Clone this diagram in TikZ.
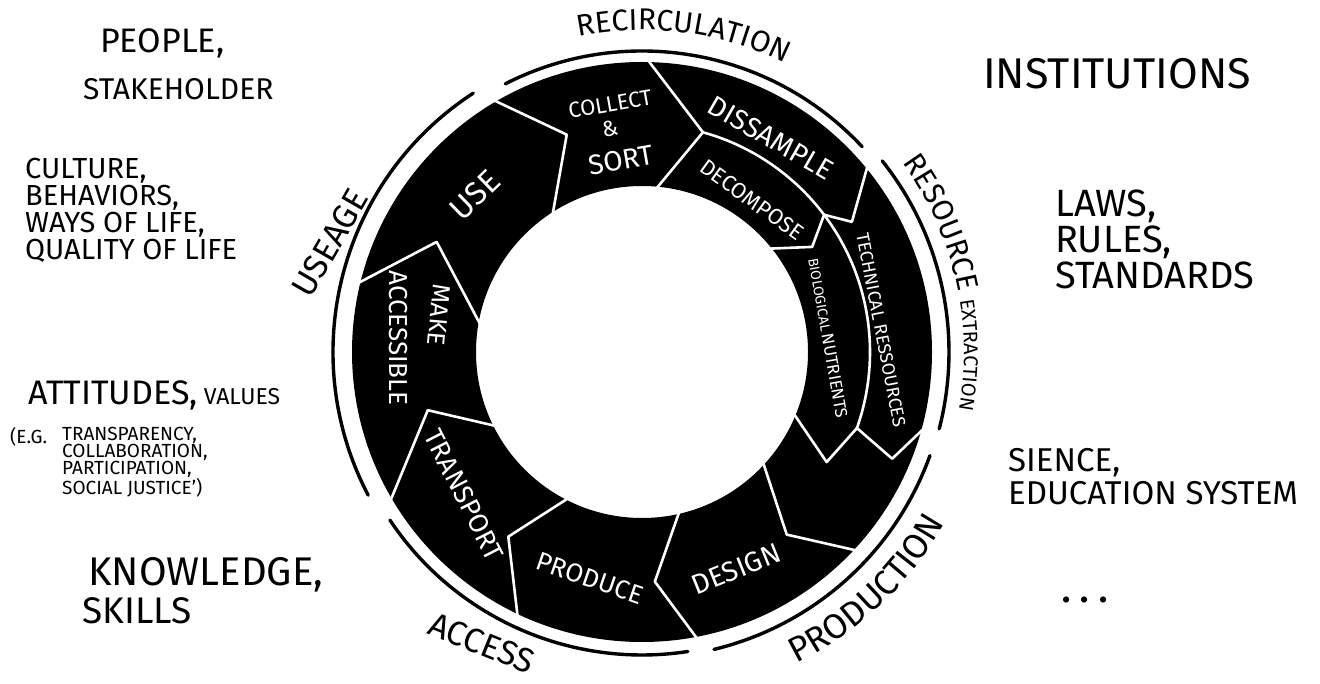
\documentclass[tikz,border=0pt]{standalone}
\usepackage{fontspec}
\setmainfont{Fira Sans}
\usetikzlibrary{decorations.text}

\tikzset{
  hand/.style={inner sep=0pt, anchor=north west, align=left, text=black},
  segtext/.style={inner sep=0pt, text=white, align=center},
  seam/.style={draw=white, line width=2.6pt, line join=round, line cap=round},
  rim/.style={draw=black, line width=3.4pt, line cap=round},
}

\begin{document}
\begin{tikzpicture}[x=1pt, y=1pt]
\useasboundingbox (0,0) rectangle (1320,-684);
\fill[white] (0,0) rectangle (1320,-684);

% the cycle ring
\begin{scope}[shift={(642,-352)}]
  \fill[black, even odd rule] (0,0) circle[radius=290pt] (0,0) circle[radius=166pt];
  % seams between the stages (tips point clockwise)
  \draw[seam] (120.6:293) -- (109.1:230) -- (123.7:162);
  \draw[seam] (89:293) -- (74.5:228) -- (85.5:162);
  \draw[seam] (74.5:228) arc[start angle=74.5, end angle=-19.5, radius=228pt];
  \draw[seam] (39.6:293) -- (31.8:247) -- (37:228);
  \draw[seam] (37:228) -- (31.7:200) -- (39.6:162);
  \draw[seam] (-21.7:162) -- (-30.8:215) -- (-19.5:228);
  \draw[seam] (-19.5:228) -- (-23.1:272) -- (-14.9:293);
  \draw[seam] (-42.7:293) -- (-51.6:233) -- (-42:162);
  \draw[seam] (-79:293) -- (-86.8:230) -- (-76.4:162);
  \draw[seam] (-115.1:293) -- (-125.9:228) -- (-116.4:162);
  \draw[seam] (210.7:293) -- (195.2:222) -- (207.4:162);
  \draw[seam] (166.5:293) -- (151.8:233) -- (171.3:162);
  % outer arcs
  \draw[rim] (117:301) arc[start angle=117, end angle=43, radius=301pt];
  \draw[rim] (38.5:307) arc[start angle=38.5, end angle=-14.5, radius=307pt];
  \draw[rim] (-19.8:306) arc[start angle=-19.8, end angle=-76.4, radius=306pt];
  \draw[rim] (-81.3:303) arc[start angle=-81.3, end angle=-146.3, radius=303pt];
  \draw[rim] (207.6:309) arc[start angle=207.6, end angle=123.1, radius=309pt];
  % curved phase names
  \path[decorate, decoration={text along path, text align=center,
      text={|\fontsize{30}{30}\selectfont|RECIRCULATION}}]
    (112:322) arc[start angle=112, end angle=53, radius=322pt];
  \path[decorate, decoration={text along path, text align=left,
      text={|\fontsize{30}{30}\selectfont|RESOURCE |\fontsize{20}{20}\selectfont|EXTRACTION}}]
    (36:322) arc[start angle=36, end angle=-20, radius=322pt];
  \path[decorate, decoration={text along path, text align=center,
      text={|\fontsize{35}{35}\selectfont|PRODUCTION}}]
    (-68:348) arc[start angle=-68, end angle=-25, radius=348pt];
\end{scope}

\node[rotate=60, inner sep=0pt, font=\fontsize{34}{34}\selectfont] (useage) at (330,-243) {USEAGE};
\node[rotate=-22, inner sep=0pt, font=\fontsize{34}{34}\selectfont] (access) at (482,-643) {ACCESS};

% stage names
\node[segtext, rotate=44, font=\fontsize{32}{32}\selectfont] (use) at (475,-195) {USE};
\node[segtext, rotate=10, font=\fontsize{22}{22}\selectfont] (collect) at (610,-104) {COLLECT};
\node[segtext, rotate=10, font=\fontsize{22}{22}\selectfont] (amp) at (610,-129) {\&};
\node[segtext, rotate=10, font=\fontsize{28}{28}\selectfont] (sort) at (621,-160) {SORT};
\node[segtext, rotate=-30, font=\fontsize{28}{28}\selectfont] (dissample) at (771,-138) {DISSAMPLE};
\node[segtext, rotate=-36, font=\fontsize{22}{22}\selectfont] (decompose) at (752,-200) {DECOMPOSE};
\node[segtext, rotate=-79, font=\fontsize{18}{18}\selectfont] (technical) at (881,-330) {TECHNICAL RESSOURCES};
\node[segtext, rotate=-80] (biological) at (828,-338)
  {{\fontsize{14}{14}\selectfont BIOLOGICAL} {\fontsize{17}{17}\selectfont NUTRIENTS}};
\node[segtext, rotate=22, font=\fontsize{28}{28}\selectfont] (design) at (736,-569) {DESIGN};
\node[segtext, rotate=-19, font=\fontsize{26}{26}\selectfont] (produce) at (590,-578) {PRODUCE};
\node[segtext, rotate=-63, font=\fontsize{27}{27}\selectfont] (transport) at (464,-495) {TRANSPORT};
\node[segtext, rotate=-95, font=\fontsize{25}{25}\selectfont] (make) at (439,-315) {MAKE};
\node[segtext, rotate=-90, font=\fontsize{26}{26}\selectfont] (accessible) at (398,-338) {ACCESSIBLE};

% left column
\node[hand, font=\fontsize{34}{34}\selectfont] (people) at (100,-28) {PEOPLE,};
\node[hand, font=\fontsize{30}{30}\selectfont] (stakeholder) at (83,-78) {STAKEHOLDER};
\node[hand, font=\fontsize{29}{27}\selectfont] (culture) at (25,-158)
  {CULTURE,\\BEHAVIORS,\\WAYS OF LIFE,\\QUALITY OF LIFE};
\node[hand, font=\fontsize{34}{34}\selectfont] (attitudes) at (28,-380)
  {ATTITUDES,{\fontsize{23}{23}\selectfont\ VALUES}};
\node[hand, font=\fontsize{19}{17}\selectfont] (eg) at (10,-427) {(E.G.};
\node[hand, font=\fontsize{19}{17}\selectfont] (examples) at (62,-427)
  {TRANSPARENCY,\\COLLABORATION,\\PARTICIPATION,\\SOCIAL JUSTICE’)};
\node[hand, font=\fontsize{40}{40}\selectfont] (knowledge) at (88,-557) {KNOWLEDGE,};
\node[hand, font=\fontsize{37}{37}\selectfont] (skills) at (82,-597) {SKILLS};

% right column
\node[hand, font=\fontsize{43}{43}\selectfont] (institutions) at (983,-58) {INSTITUTIONS};
\node[hand, font=\fontsize{38}{36}\selectfont] (laws) at (1055,-190)
  {LAWS,\\RULES,\\STANDARDS};
\node[hand, font=\fontsize{33}{33}\selectfont] (sience) at (1008,-448)
  {SIENCE,\\EDUCATION SYSTEM};
\node[inner sep=0pt, font=\fontsize{34}{34}\selectfont\bfseries] (more) at (1085,-600) {. . .};
\end{tikzpicture}
\end{document}
